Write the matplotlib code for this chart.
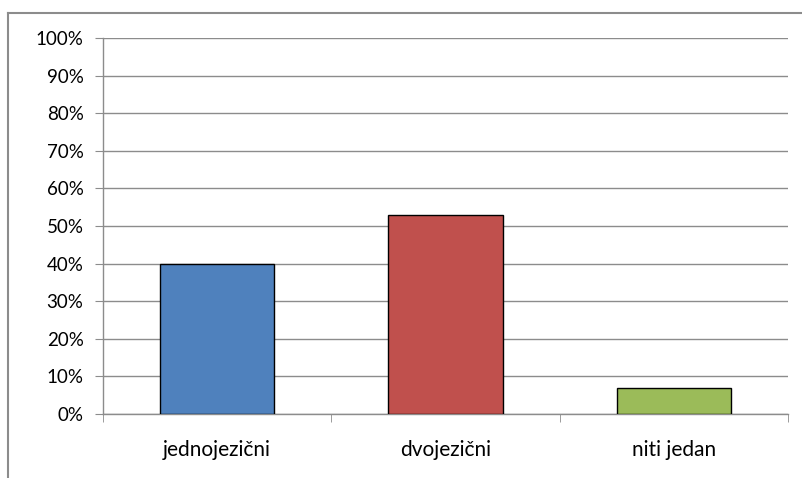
import matplotlib.pyplot as plt
from matplotlib.lines import Line2D
from matplotlib.ticker import FixedLocator

categories = ["jednojezični", "dvojezični", "niti jedan"]
values = [40, 53, 7]
colors = ["#4F81BD", "#C0504D", "#9BBB59"]
yticks = list(range(0, 101, 10))
ytick_labels = ["{}%".format(t) for t in yticks]

plt.rcParams['font.family'] = ['Lato', 'DejaVu Sans']

fig = plt.figure(figsize=(8.03, 4.78), dpi=100)
ax = fig.add_axes([103 / 803, 1 - 414 / 478, 685 / 803, 376 / 478])

grid_color = "#8c8c8c"
x = range(len(categories))
ax.bar(x, values, width=0.5, color=colors, edgecolor="black", linewidth=1.0, zorder=3)

ax.set_xlim(-0.5, len(categories) - 0.5)
ax.set_ylim(0, 100)
ax.set_yticks(yticks)
ax.set_yticklabels(ytick_labels)
ax.set_xticks(list(x))
ax.set_xticklabels(categories)
ax.xaxis.set_minor_locator(FixedLocator([-0.5, 0.5, 1.5, 2.5]))

ax.yaxis.grid(True, color=grid_color, linewidth=1.0, zorder=0)
ax.tick_params(axis="y", length=6, color=grid_color, labelsize=13.5, pad=8)
ax.tick_params(axis="x", which="major", length=0, labelsize=15, pad=19)
ax.tick_params(axis="x", which="minor", length=6, color=grid_color)

for side in ["top", "right"]:
    ax.spines[side].set_visible(False)
for side in ["left", "bottom"]:
    ax.spines[side].set_color(grid_color)
    ax.spines[side].set_linewidth(1.0)

# outer chart border (left and top edges only, rest is cropped)
fig.add_artist(Line2D([8 / 803, 8 / 803], [0, 1 - 13 / 478], transform=fig.transFigure,
                      color="#8c8c8c", linewidth=1.5))
fig.add_artist(Line2D([8 / 803, 1], [1 - 13 / 478, 1 - 13 / 478], transform=fig.transFigure,
                      color="#8c8c8c", linewidth=1.5))

fig.savefig("out.png", dpi=100)
